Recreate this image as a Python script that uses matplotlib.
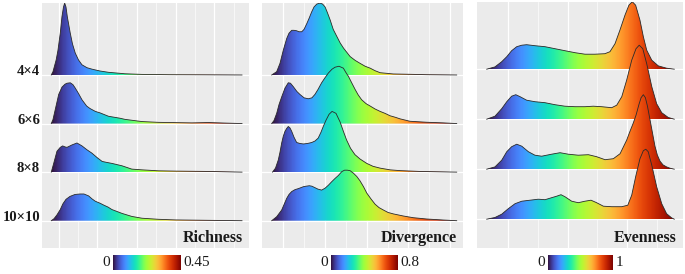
import numpy as np
import matplotlib.pyplot as plt
from matplotlib.colors import Normalize
from matplotlib.patches import Polygon

plt.rcParams['font.family'] = ['Liberation Serif', 'DejaVu Serif']

grid_sizes = ["4×4", "6×6", "8×8", "10×10"]

# Richness densities (x value, ridge height in row units)
rich_x_4 = [0, 0.004, 0.0115, 0.0158, 0.0212, 0.0252, 0.0288, 0.0316, 0.0347, 0.0378, 0.0448, 0.05,
            0.0566, 0.0642, 0.0724, 0.0842, 0.096, 0.115, 0.135, 0.174, 0.214, 0.28, 0.351, 0.45]
rich_h_4 = [0, 0.068, 0.31, 0.51, 0.86, 1.2, 1.4, 1.48, 1.4, 1.2, 0.86, 0.64,
            0.45, 0.31, 0.21, 0.15, 0.12, 0.082, 0.055, 0.025, 0.012, 0.006, 0.004, 0]
rich_x_6 = [0, 0.004, 0.0094, 0.0175, 0.0252, 0.0323, 0.037, 0.0448, 0.0512, 0.0566, 0.0642, 0.0724, 0.0835,
            0.0913, 0.104, 0.115, 0.135, 0.162, 0.174, 0.214, 0.253, 0.332, 0.371, 0.41, 0.45]
rich_h_6 = [0, 0.082, 0.29, 0.6, 0.75, 0.81, 0.83, 0.84, 0.8, 0.73, 0.62, 0.49, 0.36,
            0.31, 0.25, 0.22, 0.15, 0.11, 0.086, 0.041, 0.025, 0.014, 0.021, 0.01, 0]
rich_x_8 = [0, 0.0057, 0.0134, 0.0212, 0.0269, 0.0323, 0.037, 0.0441, 0.0488, 0.0606, 0.0665, 0.0724, 0.0842,
            0.096, 0.108, 0.12, 0.131, 0.143, 0.167, 0.19, 0.214, 0.253, 0.293, 0.371, 0.45]
rich_h_8 = [0, 0.18, 0.43, 0.51, 0.54, 0.52, 0.51, 0.54, 0.56, 0.6, 0.57, 0.54, 0.46,
            0.39, 0.3, 0.22, 0.2, 0.18, 0.13, 0.062, 0.047, 0.027, 0.021, 0.014, 0]
rich_x_10 = [0, 0.0064, 0.0134, 0.0212, 0.0276, 0.0347, 0.0441, 0.0559, 0.0677, 0.0771, 0.0882, 0.096, 0.104,
             0.115, 0.124, 0.134, 0.143, 0.155, 0.167, 0.19, 0.214, 0.253, 0.293, 0.37, 0.45]
rich_h_10 = [0, 0.041, 0.12, 0.23, 0.35, 0.44, 0.5, 0.54, 0.55, 0.55, 0.51, 0.45, 0.4,
             0.36, 0.32, 0.28, 0.23, 0.19, 0.15, 0.088, 0.051, 0.029, 0.016, 0.008, 0]

# Divergence densities
div_x_4 = [0, 0.0216, 0.0359, 0.0502, 0.0649, 0.0748, 0.0865, 0.0964, 0.108, 0.118, 0.13, 0.14, 0.152,
           0.162, 0.173, 0.183, 0.195, 0.209, 0.22, 0.231, 0.242, 0.253, 0.266, 0.282, 0.296, 0.311,
           0.339, 0.361, 0.382, 0.404, 0.426, 0.447, 0.469, 0.526, 0.598, 0.67, 0.8]
div_h_4 = [0, 0.068, 0.24, 0.51, 0.75, 0.86, 0.92, 0.92, 0.91, 0.89, 0.89, 0.94, 1.06,
           1.17, 1.3, 1.4, 1.46, 1.48, 1.46, 1.4, 1.27, 1.13, 0.94, 0.79, 0.66, 0.55,
           0.38, 0.3, 0.24, 0.18, 0.14, 0.088, 0.047, 0.021, 0.014, 0.006, 0]
div_x_6 = [0, 0.0099, 0.0216, 0.0316, 0.0433, 0.0575, 0.0718, 0.0813, 0.0934, 0.109, 0.122, 0.14, 0.158,
           0.174, 0.187, 0.2, 0.216, 0.23, 0.245, 0.261, 0.274, 0.291, 0.31, 0.321, 0.332, 0.348, 0.361,
           0.374, 0.389, 0.408, 0.426, 0.447, 0.469, 0.49, 0.512, 0.534, 0.555, 0.598, 0.67, 0.742, 0.8]
div_h_6 = [0, 0.062, 0.21, 0.39, 0.55, 0.73, 0.84, 0.83, 0.76, 0.66, 0.6, 0.53, 0.51,
           0.53, 0.6, 0.7, 0.84, 0.94, 1.04, 1.12, 1.16, 1.18, 1.14, 1.05, 0.97, 0.82, 0.7,
           0.59, 0.49, 0.41, 0.36, 0.3, 0.25, 0.21, 0.16, 0.13, 0.097, 0.047, 0.027, 0.014, 0]
div_x_8 = [0.0035, 0.0164, 0.0285, 0.0359, 0.0432, 0.0502, 0.0575, 0.0649, 0.0718, 0.0791, 0.0865, 0.0964,
           0.108, 0.122, 0.137, 0.155, 0.173, 0.187, 0.201, 0.213, 0.223, 0.235, 0.248, 0.261, 0.278,
           0.296, 0.31, 0.324, 0.341, 0.36, 0.382, 0.411, 0.438, 0.469, 0.512, 0.555, 0.642, 0.8]
div_h_8 = [0, 0.082, 0.25, 0.41, 0.6, 0.74, 0.84, 0.9, 0.94, 0.91, 0.84, 0.72,
           0.61, 0.59, 0.58, 0.59, 0.61, 0.64, 0.7, 0.82, 0.94, 1.07, 1.19, 1.25, 1.21,
           1.03, 0.84, 0.66, 0.49, 0.36, 0.27, 0.18, 0.12, 0.082, 0.047, 0.031, 0.014, 0]
div_x_10 = [0, 0.0216, 0.0432, 0.0532, 0.0649, 0.0748, 0.0865, 0.101, 0.115, 0.137, 0.148, 0.163, 0.174,
            0.187, 0.2, 0.216, 0.231, 0.245, 0.259, 0.274, 0.288, 0.303, 0.315, 0.327, 0.339, 0.353, 0.368,
            0.382, 0.397, 0.411, 0.429, 0.447, 0.464, 0.483, 0.503, 0.526, 0.569, 0.612, 0.67, 0.742, 0.8]
div_h_10 = [0, 0.082, 0.22, 0.33, 0.46, 0.54, 0.6, 0.64, 0.66, 0.7, 0.71, 0.72, 0.71,
            0.68, 0.65, 0.63, 0.67, 0.73, 0.8, 0.87, 0.93, 1.01, 1.04, 1.04, 1.03, 0.98, 0.91,
            0.82, 0.7, 0.57, 0.45, 0.34, 0.27, 0.22, 0.17, 0.14, 0.097, 0.062, 0.035, 0.014, 0]

# Evenness densities
even_x_4 = [0, 0.044, 0.08, 0.107, 0.133, 0.16, 0.187, 0.213, 0.257, 0.311, 0.364, 0.417, 0.471, 0.524,
            0.577, 0.63, 0.657, 0.684, 0.71, 0.737, 0.758, 0.776, 0.794, 0.817, 0.835, 0.853, 0.88,
            0.915, 0.959, 1.0]
even_h_4 = [0, 0.046, 0.15, 0.25, 0.37, 0.45, 0.48, 0.49, 0.47, 0.45, 0.41, 0.37, 0.33, 0.3,
            0.3, 0.31, 0.35, 0.51, 0.78, 1.08, 1.28, 1.35, 1.28, 0.98, 0.65, 0.38, 0.18,
            0.066, 0.02, 0]
even_x_6 = [0, 0.044, 0.08, 0.107, 0.133, 0.155, 0.178, 0.213, 0.257, 0.311, 0.364, 0.417, 0.471, 0.524,
            0.568, 0.613, 0.666, 0.693, 0.72, 0.746, 0.773, 0.796, 0.813, 0.832, 0.853, 0.88, 0.906,
            0.933, 0.968, 1.0]
even_h_6 = [0, 0.06, 0.21, 0.35, 0.46, 0.49, 0.45, 0.38, 0.35, 0.33, 0.29, 0.26, 0.25, 0.25,
            0.26, 0.25, 0.23, 0.28, 0.45, 0.78, 1.18, 1.41, 1.48, 1.41, 1.11, 0.65, 0.31,
            0.13, 0.034, 0]
even_x_8 = [0, 0.044, 0.08, 0.107, 0.133, 0.16, 0.187, 0.222, 0.257, 0.293, 0.346, 0.391, 0.435, 0.488,
            0.542, 0.586, 0.631, 0.675, 0.711, 0.746, 0.764, 0.781, 0.796, 0.812, 0.823, 0.835, 0.846,
            0.857, 0.87, 0.884, 0.897, 0.91, 0.924, 0.94, 0.959, 0.977, 1.0]
even_h_8 = [0, 0.046, 0.18, 0.35, 0.45, 0.5, 0.46, 0.35, 0.28, 0.26, 0.3, 0.33, 0.3, 0.28,
            0.29, 0.25, 0.19, 0.21, 0.31, 0.58, 0.76, 0.92, 1.08, 1.3, 1.43, 1.49, 1.43,
            1.26, 1.0, 0.72, 0.46, 0.28, 0.16, 0.086, 0.046, 0.02, 0]
even_x_10 = [0, 0.044, 0.08, 0.115, 0.151, 0.187, 0.231, 0.275, 0.311, 0.346, 0.373, 0.396, 0.417, 0.453,
             0.488, 0.524, 0.556, 0.586, 0.622, 0.666, 0.72, 0.752, 0.773, 0.794, 0.817, 0.835, 0.848,
             0.861, 0.88, 0.906, 0.933, 0.959, 0.986, 1.0]
even_h_10 = [0, 0.034, 0.1, 0.21, 0.31, 0.36, 0.38, 0.4, 0.39, 0.43, 0.46, 0.49, 0.45, 0.36,
             0.33, 0.36, 0.38, 0.33, 0.26, 0.25, 0.25, 0.28, 0.48, 0.85, 1.21, 1.37, 1.4,
             1.35, 1.08, 0.65, 0.31, 0.11, 0.026, 0]

# colour scale ends shown under each panel
rich_range = (0, 0.45)
div_range = (0, 0.8)
even_range = (0, 1)
rich_labels = ("0", "0.45")
div_labels = ("0", "0.8")
even_labels = ("0", "1")

# vertical grid positions
rich_major = [0.019, 0.109, 0.202, 0.294, 0.385]
rich_minor = [0.064, 0.155, 0.247, 0.339, 0.43]
div_major = [0.05, 0.231, 0.411, 0.591, 0.771]
div_minor = [0.14, 0.321, 0.501, 0.68]
even_major = [0.115, 0.432, 0.746]
even_minor = [0.275, 0.586, 0.906]

W, H = 685, 274
fig = plt.figure(figsize=(W / 100, H / 100), dpi=100)
cmap = plt.get_cmap('turbo')

panels = [
    dict(title="Richness", curves=[(rich_x_4, rich_h_4), (rich_x_6, rich_h_6), (rich_x_8, rich_h_8),
                                   (rich_x_10, rich_h_10)],
         rng=rich_range, labels=rich_labels, major=rich_major, minor=rich_minor,
         px=(42, 249), top=3, xlim=(-0.0219, 0.4665), ylim=(-0.562, 4.482),
         cbar=(113, 180)),
    dict(title="Divergence", curves=[(div_x_4, div_h_4), (div_x_6, div_h_6), (div_x_8, div_h_8),
                                     (div_x_10, div_h_10)],
         rng=div_range, labels=div_labels, major=div_major, minor=div_minor,
         px=(262, 463), top=3, xlim=(-0.0419, 0.8272), ylim=(-0.562, 4.482),
         cbar=(331, 397)),
    dict(title="Evenness", curves=[(even_x_4, even_h_4), (even_x_6, even_h_6), (even_x_8, even_h_8),
                                   (even_x_10, even_h_10)],
         rng=even_range, labels=even_labels, major=even_major, minor=even_minor,
         px=(477, 683), top=2, xlim=(-0.0517, 1.0464), ylim=(-0.576, 4.344),
         cbar=(548, 613)),
]

for i, p in enumerate(panels):
    x0, x1 = p['px']
    ax = fig.add_axes([x0 / W, 1 - 248 / H, (x1 - x0) / W, (248 - p['top']) / H])
    ax.set_facecolor('#EBEBEB')
    for s in ax.spines.values():
        s.set_visible(False)
    ax.set_xticks([])
    ax.set_yticks([])

    for g in p['major']:
        ax.axvline(g, color='white', lw=0.9, zorder=0.5)
    for g in p['minor']:
        ax.axvline(g, color='white', lw=0.45, zorder=0.5)

    norm = Normalize(*p['rng'])
    n = len(p['curves'])
    for k, (xs, hs) in enumerate(p['curves']):
        base = n - 1 - k
        ax.axhline(base, color='white', lw=0.9, zorder=0.6)
        xs = np.asarray(xs)
        ys = base + np.asarray(hs)
        verts = np.column_stack([np.r_[xs, xs[::-1]], np.r_[ys, np.full(len(xs), base)]])
        poly = Polygon(verts, closed=True, facecolor='none', edgecolor='none')
        ax.add_patch(poly)
        grad = np.linspace(xs[0], xs[-1], 300)[None, :]
        im = ax.imshow(grad, extent=[xs[0], xs[-1], base, ys.max()], origin='lower',
                       aspect='auto', cmap=cmap, norm=norm, zorder=2 + k, interpolation='bilinear')
        im.set_clip_path(poly)
        ax.plot(xs, ys, color='#2a2a2a', lw=0.6, zorder=2 + k)
        if i == 0:
            ax.text((40 - x0) / (x1 - x0), base, grid_sizes[k], transform=ax.get_yaxis_transform(),
                    ha='right', va='baseline', fontsize=10.5, fontweight='bold', color='#1a1a1a')

    ax.set_xlim(*p['xlim'])
    ax.set_ylim(*p['ylim'])
    ax.text(1 - 6.3 / (x1 - x0), (248 - 237.5) / (248 - p['top']), p['title'], transform=ax.transAxes,
            ha='right', va='center', fontsize=11.5, fontweight='bold', color='#1a1a1a', zorder=10)

    c0, c1 = p['cbar']
    cax = fig.add_axes([c0 / W, 1 - 270 / H, (c1 - c0) / W, 15 / H])
    cax.imshow(np.linspace(0, 1, 256)[None, :], aspect='auto', cmap=cmap, extent=[0, 1, 0, 1])
    cax.set_axis_off()
    fig.text((c0 - 3) / W, 1 - 262.5 / H, p['labels'][0], ha='right', va='center', fontsize=11,
             color='#1a1a1a')
    fig.text((c1 + 3) / W, 1 - 262.5 / H, p['labels'][1], ha='left', va='center', fontsize=11,
             color='#1a1a1a')

fig.savefig('out.png', dpi=100)
